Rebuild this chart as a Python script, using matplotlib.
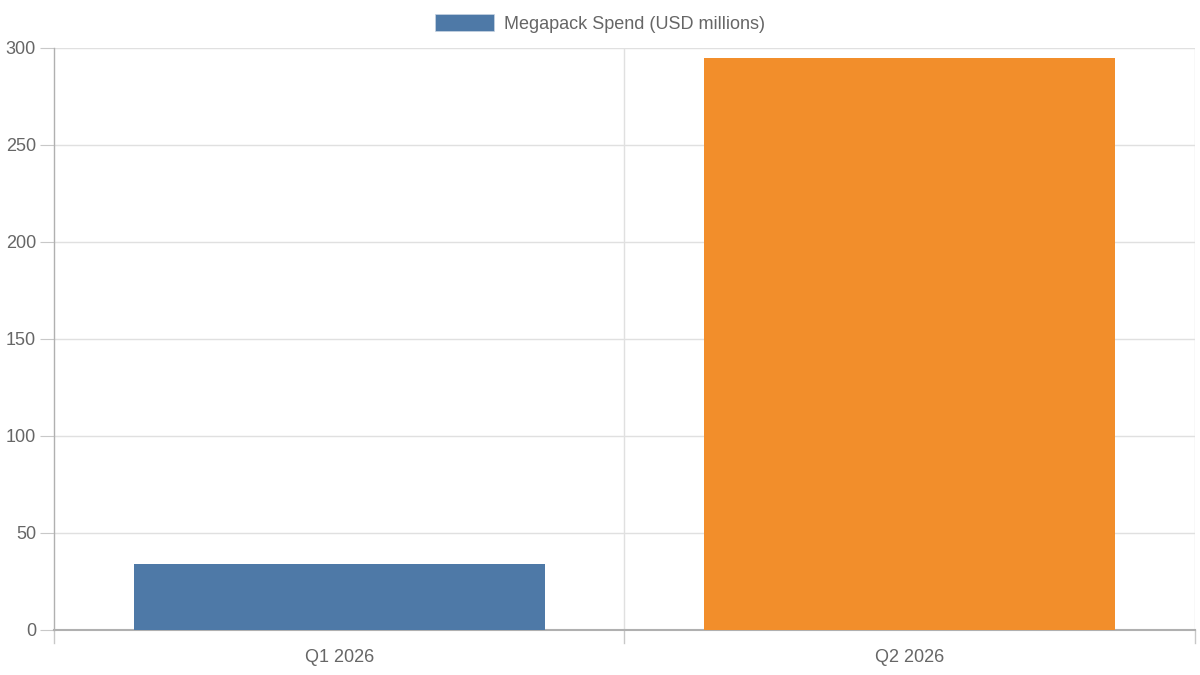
import matplotlib.pyplot as plt
from matplotlib.patches import Patch

plt.rcParams['font.family'] = ['Liberation Sans', 'DejaVu Sans']

quarters = ["Q1 2026", "Q2 2026"]
spend = [34, 295]
bar_colors = ["#4e79a7", "#f28e2b"]
series_label = "Megapack Spend (USD millions)"
y_ticks = [0, 50, 100, 150, 200, 250, 300]

text_color = "#666666"
grid_color = "#e0e0e0"

fig = plt.figure(figsize=(12, 6.75), dpi=100)
ax = fig.add_axes([0.045, 0.0667, 0.9508, 0.8622])

x = list(range(len(quarters)))
ax.bar(x, spend, width=0.72, color=bar_colors, zorder=3)

ax.set_xlim(-0.5, len(quarters) - 0.5)
ax.set_ylim(0, 300)
ax.set_yticks(y_ticks)
ax.set_xticks(x)
ax.set_xticklabels(quarters)

# horizontal grid + vertical lines at category edges
for yv in y_ticks[1:]:
    ax.axhline(yv, color=grid_color, lw=1, zorder=1)
for xe in [i - 0.5 for i in range(len(quarters) + 1)][1:]:
    ax.axvline(xe, color=grid_color, lw=1, zorder=1)
    ax.plot([xe, xe], [0, -0.0225 * 300], color="#c8c8c8", lw=1, clip_on=False)
ax.plot([-0.5, -0.5], [0, -0.0225 * 300], color="#c8c8c8", lw=1, clip_on=False)

for side in ["top", "right"]:
    ax.spines[side].set_visible(False)
ax.spines["left"].set_color("#b0b0b0")
ax.spines["bottom"].set_color("#b0b0b0")
ax.spines["left"].set_linewidth(1)
ax.spines["bottom"].set_linewidth(1.5)

ax.tick_params(axis="y", length=10, color="#c8c8c8", labelsize=13, labelcolor=text_color, pad=3)
ax.tick_params(axis="x", length=0, labelsize=13, labelcolor=text_color, pad=14)

handles = [Patch(facecolor=bar_colors[0], edgecolor="#c8d4e3", lw=0.5)]
fig.legend(handles, [series_label], loc="center", bbox_to_anchor=(0.5, 0.965),
           frameon=False, fontsize=13, labelcolor=text_color,
           handlelength=3.3, handleheight=1.0, handletextpad=0.55)

fig.savefig("out.png", dpi=100)
